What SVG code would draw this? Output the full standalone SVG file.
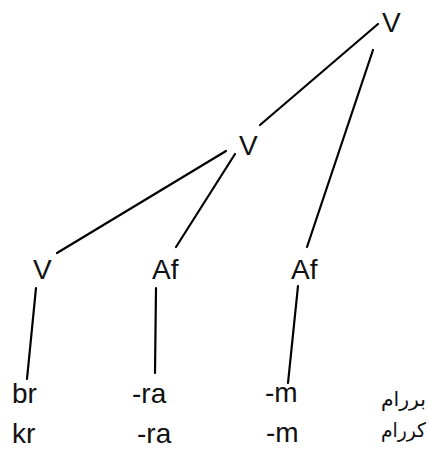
<svg xmlns="http://www.w3.org/2000/svg" width="428" height="449" viewBox="0 0 428 449">
<style>
.lbl{font-family:"Liberation Sans",Arial,sans-serif;font-size:28px;fill:#111}
.fa{font-family:"DejaVu Sans","Noto Sans",sans-serif;font-size:20px;fill:#111}
.edge{stroke:#000;stroke-width:2.2;stroke-linecap:round;fill:none}
</style>
<rect width="428" height="449" fill="#fff"/>
<g id="connectors">
<line class="edge" x1="378" y1="24" x2="260" y2="125"/>
<line class="edge" x1="373" y1="50" x2="307" y2="247"/>
<line class="edge" x1="226" y1="151" x2="57" y2="253"/>
<line class="edge" x1="235" y1="154" x2="176" y2="247" stroke-width="1.7"/>
<line class="edge" x1="36" y1="288" x2="27" y2="379"/>
<line class="edge" x1="156" y1="288" x2="155" y2="373"/>
<line class="edge" x1="298" y1="286" x2="288" y2="383"/>
</g>
<g id="node-v-top"><text class="lbl" x="382" y="32">V</text></g>
<g id="node-v-mid"><text class="lbl" x="239" y="155">V</text></g>
<g id="node-v-left"><text class="lbl" x="33" y="279">V</text></g>
<g id="node-af-mid"><text class="lbl" x="152" y="279">Af</text></g>
<g id="node-af-right"><text class="lbl" x="291" y="279">Af</text></g>
<g id="row1">
<text class="lbl" x="12" y="403">br</text>
<text class="lbl" x="132" y="403">-ra</text>
<text class="lbl" x="265" y="402">-m</text>
<text class="fa" x="381" y="406" textLength="45" lengthAdjust="spacingAndGlyphs">بررام</text>
</g>
<g id="row2">
<text class="lbl" x="12" y="443">kr</text>
<text class="lbl" x="137" y="443">-ra</text>
<text class="lbl" x="266" y="442">-m</text>
<text class="fa" x="381" y="437" textLength="45" lengthAdjust="spacingAndGlyphs">کررام</text>
</g>
</svg>
